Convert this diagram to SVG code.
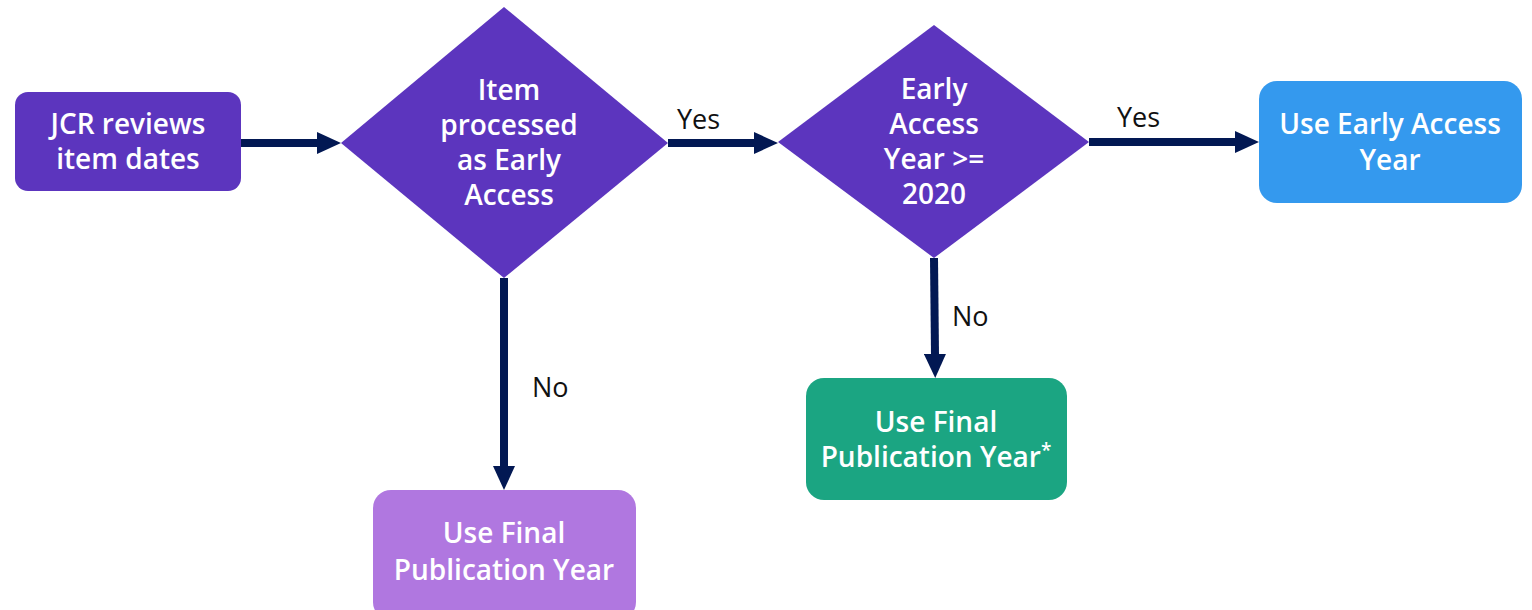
<svg xmlns="http://www.w3.org/2000/svg" width="1532" height="610" viewBox="0 0 1532 610">
<style>
.t{font-family:"Open Sans","Noto Sans","Liberation Sans",sans-serif;font-weight:600;font-size:28px;fill:#fff;text-anchor:middle}
.l{font-family:"Open Sans","Noto Sans","Liberation Sans",sans-serif;font-weight:400;font-size:27px;fill:#111}
.c{fill:none;stroke:#021853;stroke-width:8}
</style>
<defs>
<marker id="ah" markerUnits="userSpaceOnUse" markerWidth="24" markerHeight="22" refX="1" refY="11" orient="auto">
<path d="M0,0 L24,11 L0,22 z" fill="#021853"/>
</marker>
</defs>
<rect width="1532" height="610" fill="#fff"/>
<g id="connectors">
<path class="c" d="M241,143 L318,143" marker-end="url(#ah)"/>
<path class="c" d="M668,143 L755,143" marker-end="url(#ah)"/>
<path class="c" d="M1089,142 L1236,142" marker-end="url(#ah)"/>
<path class="c" d="M504,278 L504,467" marker-end="url(#ah)"/>
<path class="c" d="M934,258 L935,355" marker-end="url(#ah)"/>
<text class="l" x="677" y="129">Yes</text>
<text class="l" x="1117" y="127">Yes</text>
<text class="l" x="532" y="397">No</text>
<text class="l" x="952" y="326">No</text>
</g>
<g id="start">
<rect x="15" y="92" width="226" height="99" rx="13" fill="#5C35BE"/>
<text class="t" x="128" y="134">JCR reviews</text>
<text class="t" x="128" y="169">item dates</text>
</g>
<g id="decision1">
<polygon points="504,7 668,143 504,278 341,143" fill="#5C35BE"/>
<text class="t" x="509" y="100">Item</text>
<text class="t" x="509" y="135">processed</text>
<text class="t" x="509" y="170">as Early</text>
<text class="t" x="509" y="205">Access</text>
</g>
<g id="decision2">
<polygon points="934,25 1089,142 934,258 778,142" fill="#5C35BE"/>
<text class="t" x="934" y="99">Early</text>
<text class="t" x="934" y="134">Access</text>
<text class="t" x="934" y="169">Year &gt;=</text>
<text class="t" x="934" y="204">2020</text>
</g>
<g id="early">
<rect x="1259" y="81" width="263" height="122" rx="18" fill="#3499EE"/>
<text class="t" x="1390" y="134">Use Early Access</text>
<text class="t" x="1390" y="170">Year</text>
</g>
<g id="final2">
<rect x="806" y="378" width="261" height="122" rx="18" fill="#1BA582"/>
<text class="t" x="936" y="467">Publication Year<tspan font-size="19" dy="-10">*</tspan></text>
<text class="t" x="936" y="432">Use Final</text>
</g>
<g id="final1">
<rect x="373" y="490" width="263" height="130" rx="18" fill="#B077E0"/>
<text class="t" x="504" y="543">Use Final</text>
<text class="t" x="504" y="580">Publication Year</text>
</g>
</svg>
